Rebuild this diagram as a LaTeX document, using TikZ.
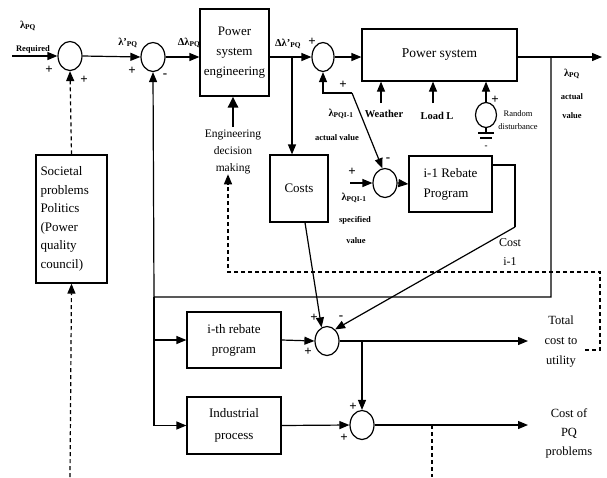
\documentclass[tikz,border=0pt]{standalone}
\usepackage{fontspec}
\setmainfont{Liberation Serif}
\usetikzlibrary{arrows.meta,shapes.geometric,calc}
\begin{document}
\begin{tikzpicture}[x=1pt,y=-1pt,
  box/.style={draw, line width=1.2pt, rectangle, align=center, font=\fontsize{13}{20}\selectfont, inner sep=0pt},
  sumj/.style={draw, ellipse, line width=1.2pt, minimum width=24pt, minimum height=29pt, inner sep=0pt},
  arr/.style={line width=1.2pt, -{Triangle[length=10pt,width=8pt]}},
  ln/.style={line width=1.2pt},
  dsh/.style={line width=1.2pt, dash pattern=on 4pt off 3pt},
  dsharr/.style={dsh, -{Triangle[length=10pt,width=8pt]}},
  lab/.style={font=\fontsize{10.5}{12}\selectfont\bfseries, inner sep=0pt},
  tiny/.style={font=\fontsize{8.5}{10}\selectfont\bfseries, inner sep=0pt},
  txt/.style={font=\fontsize{12}{18}\selectfont, inner sep=0pt, align=center},
  sgn/.style={font=\fontsize{13}{13}\selectfont\bfseries, inner sep=0pt}]
\useasboundingbox (0,0) rectangle (607,477);

% ---- nodes ----
\node[sumj] (s1) at (70,56) {};
\node[sumj] (s2) at (153,57) {};
\node[box, minimum width=69pt, minimum height=87pt] (pse) at (234.5,52.5) {Power\\system\\engineering};
\node[sumj, minimum width=22pt] (s3) at (323,57) {};
\node[box, minimum width=155pt, minimum height=52pt, font=\fontsize{13.5}{16}\selectfont] (ps) at (439.5,55) {Power system};
\node[box, minimum width=58pt, minimum height=67pt] (costs) at (299,188.5) {Costs};
\node[sumj] (s4) at (385,183) {};
\node[box, minimum width=83pt, minimum height=56pt, align=left] (reb1) at (450.5,184) {i-1 Rebate\\Program};
\node[box, minimum width=71pt, minimum height=128pt, text width=62pt, align=left, font=\fontsize{13}{18.5}\selectfont] (soc) at (71.5,219) {Societal\\problems\\Politics\\(Power\\quality\\council)};
\node[box, minimum width=94pt, minimum height=56pt] (ith) at (234,340) {i-th rebate\\program};
\node[box, minimum width=94pt, minimum height=57pt, font=\fontsize{13}{22}\selectfont] (ind) at (234,425.5) {Industrial\\process};
\node[sumj] (s5) at (327,341) {};
\node[sumj] (s6) at (362,425) {};
\node[draw, ellipse, line width=1.2pt, minimum width=21pt, minimum height=25pt, inner sep=0pt] (rd) at (486,115) {};

% ---- labels ----
\node[lab] (lpq) at (28,26) {λ\textsubscript{PQ}};
\node[tiny] (lreq) at (33,49) {Required};
\node[lab] (lpq2) at (128,43) {λ'\textsubscript{PQ}};
\node[lab] (dlpq) at (189,43) {Δλ\textsubscript{PQ}};
\node[lab] (dlpq2) at (288,44) {Δλ'\textsubscript{PQ}};
\node[txt, font=\fontsize{11.5}{17}\selectfont] (edm) at (233,152) {Engineering\\decision\\making};
\node[lab] (lact) at (341,114) {λ\textsubscript{PQI-1}};
\node[tiny] (lactv) at (337,138) {actual value};
\node[lab] (weather) at (384,114) {Weather};
\node[lab] (load) at (437,116) {Load L};
\node[txt, font=\fontsize{8.5}{13}\selectfont] (rdl) at (518,120) {Random\\disturbance};
\node[lab] (lspec) at (354,198) {λ\textsubscript{PQI-1}};
\node[tiny] (lspec2) at (355,220) {specified};
\node[tiny] (lspec3) at (356,241) {value};
\node[txt, font=\fontsize{12}{19}\selectfont] (costi) at (510,252) {Cost\\i-1};
\node[lab] (lout) at (572,74) {λ\textsubscript{PQ}};
\node[tiny] (lout2) at (572,97) {actual};
\node[tiny] (lout3) at (572,116) {value};
\node[txt, font=\fontsize{12.5}{20}\selectfont] (total) at (561,342) {Total\\cost to\\utility};
\node[txt, font=\fontsize{12.5}{19}\selectfont] (cpq) at (569,433) {Cost of\\PQ\\problems};

% signs
\node[sgn] at (49,70) {+};
\node[sgn] at (84,80) {+};
\node[sgn] at (132,71) {+};
\node[sgn] at (165,76) {-};
\node[sgn] at (312,42) {+};
\node[sgn] at (343,85) {+};
\node[sgn] at (352,172) {+};
\node[sgn] at (388,160) {-};
\node[sgn] at (495,100) {+};
\node[sgn] at (314,318) {+};
\node[sgn] at (341,318) {-};
\node[sgn] at (308,352) {+};
\node[sgn] at (353,407) {+};
\node[sgn] at (344,438) {+};
\node[sgn, font=\fontsize{9}{9}\selectfont\bfseries] at (486,147) {-};

% ---- coordinates ----
\coordinate (in) at (12,56);
\coordinate (b1) at (292,57);
\coordinate (b2) at (551,57);
\coordinate (out) at (602,57);
\coordinate (fbc) at (551,297);
\coordinate (fbl) at (154,297);
\coordinate (c1) at (323,93);
\coordinate (c2) at (352,93);
\coordinate (spec) at (350,183);
\coordinate (r1) at (515,165);
\coordinate (r2) at (515,227);
\coordinate (b3) at (362,341);
\coordinate (tot) at (528,341);
\coordinate (cend) at (528,425);
\coordinate (dd) at (432,425);
\coordinate (ddb) at (432,477);
\coordinate (sb) at (70,477);
\coordinate (d1) at (585,350);
\coordinate (d2) at (600,350);
\coordinate (d3) at (600,272);
\coordinate (d4) at (228,272);
\coordinate (wt) at (381,103);
\coordinate (lt) at (433,103);
\coordinate (edt) at (233,127);

% ---- connectors ----
\draw[arr] (in) -- (s1.west);
\draw[arr] (s1.east) -- (s2.west);
\draw[arr] (s2.east) -- (s2 -| pse.west);
\draw[arr] (s3 -| pse.east) -- (s3.west);
\draw[arr] (s3.east) -- (s3 -| ps.west);
\draw[arr] (b1) -- (b1 |- costs.north);
\draw[arr] (b2 -| ps.east) -- (out);
\draw[arr] (b2) -- (fbc) -- (fbl) -- (s2.south);
\draw[arr] (fbl) -- (fbl |- ind.west) -- (ind.west);
\draw[arr] (fbl |- ith.west) -- (ith.west);
\draw[arr] (c2) -- (c1) -- (s3.south);
\draw[arr] (c2) -- (s4.100);
\draw[arr] (spec) -- (s4.west);
\draw[arr] (s4.east) -- (reb1.west);
\draw[ln] ([yshift=19pt]reb1.east) -- (r1) -- (r2);
\draw[arr] (r2) -- (s5.55);
\draw[arr] ([xshift=6pt]costs.south) -- (s5.112);
\draw[arr] (ith.east) -- (s5.west);
\draw[arr] (s5.east) -- (tot);
\draw[arr] (b3) -- (s6.north);
\draw[arr] (ind.east) -- (s6.west);
\draw[arr] (s6.east) -- (cend);
\draw[dsh] (dd) -- (ddb);
\draw[dsharr] (soc.north) -- (s1.south);
\draw[dsharr] (sb) -- (soc.south);
\draw[dsharr] (d1) -- (d2) -- (d3) -- (d4) -- (d4 |- edm.south);
\draw[line width=2.8pt, -{Triangle[length=11pt,width=10pt]}] (edt) -- (edt |- pse.south);
\draw[arr] (wt) -- (wt |- ps.south);
\draw[arr] (lt) -- (lt |- ps.south);
\draw[arr] (rd.north) -- (rd.north |- ps.south);
\draw[ln] (rd.south) -- (486,133);
\draw[ln] (478,133) -- (494,133);
\draw[ln] (480,138) -- (492,138);
\end{tikzpicture}
\end{document}
